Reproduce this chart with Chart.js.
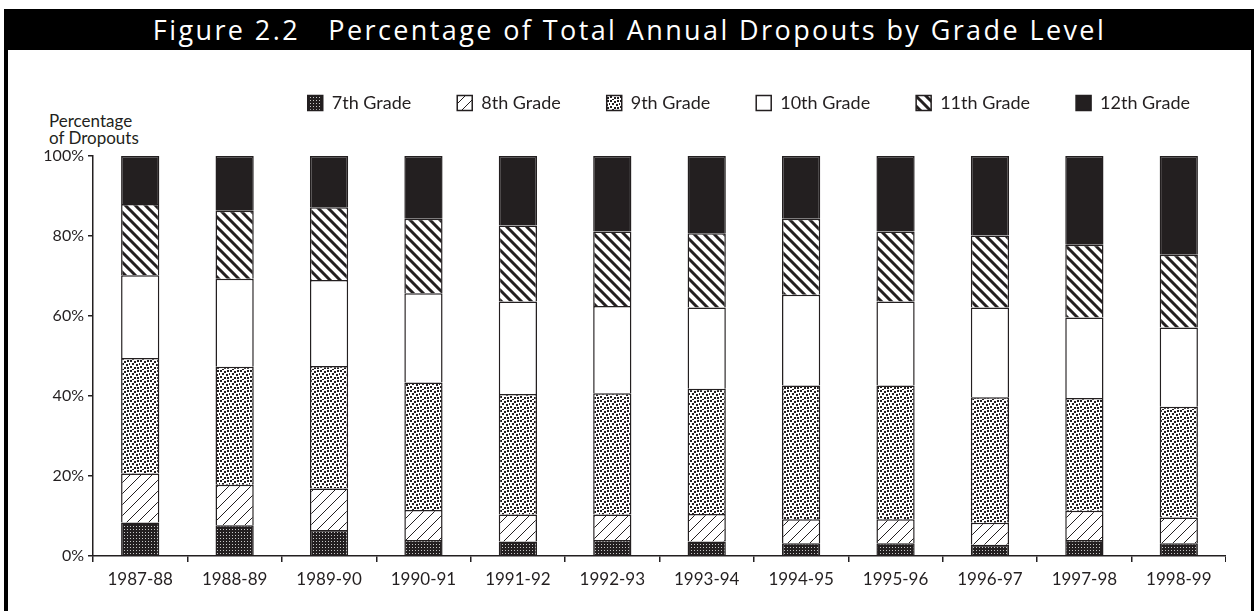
<!DOCTYPE html>
<html>
<head>
<meta charset="utf-8">
<script src="https://cdn.jsdelivr.net/npm/chart.js@4.4.1/dist/chart.umd.min.js"></script>
<style>
    body { margin: 0; background: #fff; font-family: Lato, "Open Sans", sans-serif; color: #231f20; }
    #frame { position: absolute; left: 4px; top: 9px; width: 1243px; height: 610px; border-left: 4px solid #000; border-right: 4px solid #000; }
    #title { position: absolute; left: 4px; top: 9px; width: 1251px; height: 41px; background: #000; color: #fff;
        font-family: "Open Sans", sans-serif; font-size: 27px; line-height: 41px; text-align: center; white-space: pre; letter-spacing: 2.4px; }
    #ylabel { position: absolute; left: 49px; top: 112px; font-size: 17px; line-height: 17px; }
    canvas { position: absolute; left: 0; top: 0; }
</style>
</head>
<body>
<div id="frame"></div>
<div id="title">Figure 2.2   Percentage of Total Annual Dropouts by Grade Level</div>
<div id="ylabel">Percentage<br>of Dropouts</div>
<canvas id="chart" width="1226" height="611" style="width:1226px;height:611px"></canvas>
<script>
    var years = ['1987-88', '1988-89', '1989-90', '1990-91', '1991-92', '1992-93',
        '1993-94', '1994-95', '1995-96', '1996-97', '1997-98', '1998-99']

    var grade7 = [8.4, 7.7, 6.5, 4.0, 3.6, 4.0, 3.6, 3.2, 3.2, 2.8, 4.0, 3.2]
    var grade8 = [12.2, 10.1, 10.4, 7.5, 6.8, 6.4, 6.9, 6.0, 6.0, 5.5, 7.3, 6.4]
    var grade9 = [28.9, 29.5, 30.6, 31.9, 30.1, 30.3, 31.3, 33.4, 33.4, 31.4, 28.2, 27.7]
    var grade10 = [20.7, 22.0, 21.5, 22.3, 23.1, 21.8, 20.3, 22.7, 21.0, 22.4, 20.1, 19.8]
    var grade11 = [17.8, 17.0, 18.2, 18.6, 19.0, 18.6, 18.6, 19.0, 17.5, 18.0, 18.2, 18.2]
    var grade12 = [12.0, 13.7, 12.8, 15.7, 17.4, 18.9, 19.3, 15.7, 18.9, 19.9, 22.2, 24.7]

    var gradeLabels = ['7th Grade', '8th Grade', '9th Grade', '10th Grade', '11th Grade', '12th Grade']
    var yTicks = [0, 20, 40, 60, 80, 100]

    var ink = '#231f20'

    function tile(size, draw) {
        var c = document.createElement('canvas')
        c.width = size
        c.height = size
        var g = c.getContext('2d')
        g.fillStyle = '#fff'
        g.fillRect(0, 0, size, size)
        draw(g, size)
        return g.createPattern(c, 'repeat')
    }

    // dark fine grid
    var pat7 = tile(3, function(g) {
        g.fillStyle = ink
        g.fillRect(0, 0, 3, 3)
        g.fillStyle = '#c8c8c8'
        g.fillRect(1, 1, 1, 1)
    })

    // thin forward slashes
    var pat8 = tile(11, function(g, s) {
        g.strokeStyle = ink
        g.lineWidth = 1
        g.beginPath()
        g.moveTo(0, s); g.lineTo(s, 0)
        g.moveTo(-2, 2); g.lineTo(2, -2)
        g.moveTo(s - 2, s + 2); g.lineTo(s + 2, s - 2)
        g.stroke()
    })

    // scattered dots
    var pat9 = tile(10, function(g) {
        g.fillStyle = ink
        var dots = [[0, 0], [4, 1], [7, 0], [2, 3], [6, 4], [9, 3], [0, 6], [4, 7], [7, 7], [2, 9]]
        dots.forEach(function(d) { g.fillRect(d[0], d[1], 2, 2) })
    })

    // heavy back slashes
    var pat11 = tile(10, function(g, s) {
        g.strokeStyle = ink
        g.lineWidth = 3
        g.beginPath()
        g.moveTo(0, 0); g.lineTo(s, s)
        g.moveTo(-s / 2, s / 2); g.lineTo(s / 2, s * 1.5)
        g.moveTo(s / 2, -s / 2); g.lineTo(s * 1.5, s / 2)
        g.stroke()
    })

    var fills = [pat7, pat8, pat9, '#fff', pat11, ink]
    var series = [grade7, grade8, grade9, grade10, grade11, grade12]

    // extra room under the legend, and move it so the last label ends near x=1190
    var legendSpace = {
        id: 'legendSpace',
        beforeInit: function(chart) {
            var fit = chart.legend.fit
            chart.legend.fit = function() {
                fit.bind(chart.legend)()
                this.height += 34
            }
        },
        afterLayout: function(chart) {
            var shift = 1236 - chart.legend.right
            chart.legend.left += shift
            chart.legend.right += shift
        }
    }

    var chart = new Chart(document.getElementById('chart'), {
        type: 'bar',
        data: {
            labels: years,
            datasets: series.map(function(values, i) {
                return {
                    label: gradeLabels[i],
                    data: values,
                    backgroundColor: fills[i],
                    borderColor: ink,
                    borderWidth: 1.5,
                    categoryPercentage: 1,
                    barPercentage: 0.405
                }
            })
        },
        options: {
            responsive: false,
            animation: false,
            devicePixelRatio: 1,
            layout: { padding: { top: 48, right: 0, left: 0, bottom: 0 } },
            plugins: {
                tooltip: { enabled: false },
                legend: {
                    align: 'end',
                    labels: {
                        boxWidth: 15,
                        boxHeight: 15,
                        padding: 46,
                        color: ink,
                        font: { family: 'Lato', size: 18 }
                    }
                }
            },
            scales: {
                x: {
                    stacked: true,
                    afterFit: function(scale) {
                        scale.height = 55
                        scale.paddingLeft = 0
                        scale.paddingRight = 0
                    },
                    grid: { offset: true, drawOnChartArea: false, tickLength: 6, color: ink, lineWidth: 1.5 },
                    border: { color: ink, width: 1.5 },
                    ticks: { color: ink, padding: 7, font: { family: 'Lato', size: 17 } }
                },
                y: {
                    stacked: true,
                    min: 0,
                    max: 100,
                    afterFit: function(scale) { scale.width = 93 },
                    afterBuildTicks: function(scale) {
                        scale.ticks = yTicks.map(function(v) { return { value: v } })
                    },
                    grid: { drawOnChartArea: false, tickLength: 5, color: ink, lineWidth: 1.5 },
                    border: { color: ink, width: 1.5 },
                    ticks: {
                        color: ink,
                        padding: 4,
                        font: { family: 'Lato', size: 16 },
                        callback: function(v) { return v + '%' }
                    }
                }
            }
        },
        plugins: [legendSpace]
    })
</script>
</body>
</html>
